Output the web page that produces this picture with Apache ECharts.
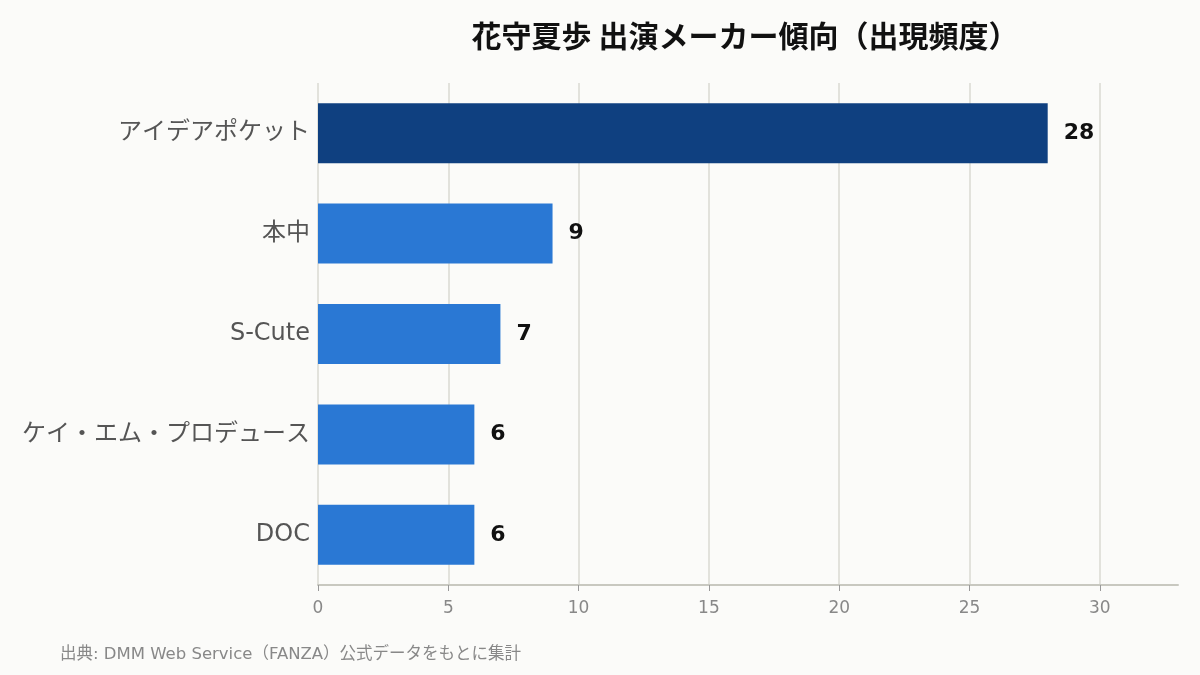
<!DOCTYPE html>
<html>
<head>
<meta charset="utf-8">
<script src="https://cdn.jsdelivr.net/npm/echarts@6/dist/echarts.min.js"></script>
<style>
  html, body { margin: 0; padding: 0; background: #fbfbf9; }
  #main { width: 1200px; height: 675px; }
</style>
</head>
<body>
<div id="main"></div>
<script>
// メーカー別の出演本数
const makers = ['アイデアポケット', '本中', 'S-Cute', 'ケイ・エム・プロデュース', 'DOC'];
const counts = [28, 9, 7, 6, 6];
const xTicks = [0, 5, 10, 15, 20, 25, 30];
const highlightColor = '#0f4080';
const baseColor = '#2a78d4';

const font = '"DejaVu Sans", "Noto Sans CJK JP", sans-serif';

const chart = echarts.init(document.getElementById('main'));

const option = {
  backgroundColor: '#fbfbf9',
  animation: false,
  title: {
    text: '花守夏歩 出演メーカー傾向（出現頻度）',
    left: 740,
    top: 16,
    textAlign: 'center',
    textStyle: { fontFamily: '"Noto Sans CJK JP", sans-serif', fontSize: 30, fontWeight: 'bold', color: '#111' }
  },
  graphic: [{
    type: 'text',
    left: 60,
    top: 646,
    style: {
      text: '出典: DMM Web Service（FANZA）公式データをもとに集計',
      fill: '#888',
      font: '16.5px ' + font
    }
  }],
  grid: { left: 318, right: 22, top: 83, bottom: 90 },
  xAxis: {
    type: 'value',
    min: 0,
    max: 33,
    interval: 5,
    axisLine: { show: true, onZero: false, lineStyle: { color: '#c8c8c0', width: 2 } },
    axisTick: { show: true, length: 6, customValues: xTicks, lineStyle: { color: '#999' } },
    axisLabel: {
      fontFamily: font, fontSize: 17, color: '#888', margin: 15,
      customValues: xTicks
    },
    splitLine: { show: true, lineStyle: { color: '#e2e2dc', width: 2 } }
  },
  yAxis: {
    type: 'category',
    data: makers,
    inverse: true,
    axisLine: { show: false },
    axisTick: { show: false },
    axisLabel: { fontFamily: font, fontSize: 24, color: '#555', margin: 8 }
  },
  series: [{
    type: 'bar',
    barWidth: 60,
    data: counts.map((v, i) => ({
      value: v,
      itemStyle: { color: i === 0 ? highlightColor : baseColor }
    })),
    label: {
      show: true,
      position: 'right',
      distance: 16,
      fontFamily: font,
      fontSize: 22,
      fontWeight: 'bold',
      color: '#111'
    }
  }]
};

chart.setOption(option);
</script>
</body>
</html>
